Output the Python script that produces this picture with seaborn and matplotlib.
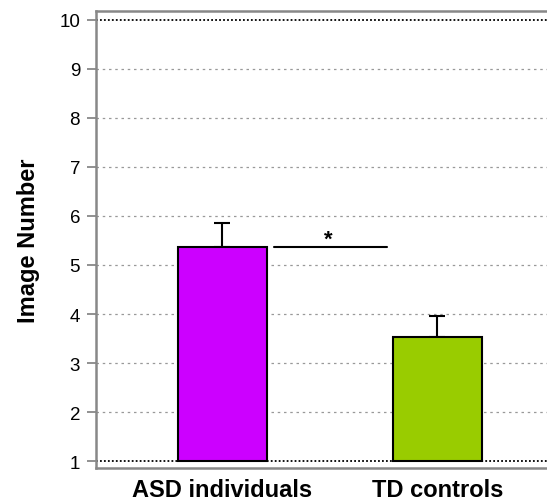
import matplotlib
matplotlib.use("Agg")
import matplotlib.pyplot as plt
import seaborn as sns
import pandas as pd
import numpy as np

groups = ["ASD individuals", "TD controls"]
means = [5.36, 3.54]
errors = [0.50, 0.41]
colors = ["#CC00FF", "#99CC00"]
yticks = [1, 2, 3, 4, 5, 6, 7, 8, 9, 10]

sns.set_style("white")
plt.rcParams['font.family'] = ['Liberation Sans', 'DejaVu Sans']
plt.rcParams['text.color'] = 'black'
plt.rcParams['axes.labelcolor'] = 'black'
plt.rcParams['xtick.color'] = 'black'
plt.rcParams['ytick.color'] = 'black'

df = pd.DataFrame({"group": groups, "mean": means})

fig = plt.figure(figsize=(5.47, 5.02), dpi=100)
ax = fig.add_axes([96/547, 33/502, 453/547, 457/502])

# grid lines
for t in yticks:
    if t in (1, 10):
        ax.axhline(t, color="black", lw=1.3, ls=(0, (1, 1.2)), zorder=1)
    else:
        ax.axhline(t, color="#999999", lw=0.9, ls=(0, (2, 3)), zorder=1)

sns.barplot(data=df, x="group", y="mean", hue="group", palette=colors,
            saturation=1, width=0.414, edgecolor="black", linewidth=1.5,
            legend=False, ax=ax, zorder=3, errorbar=None)
# bars start at 1 (baseline)
for p in ax.patches:
    p.set_y(1)
    p.set_height(p.get_height() - 1)

x = np.arange(len(groups))
ax.errorbar(x, means, yerr=[np.zeros(len(errors)), errors], fmt="none",
            ecolor="black", elinewidth=1.5, capsize=5.5, capthick=1.5, zorder=2)

# significance marker
ax.plot([0.24, 0.765], [5.36, 5.36], color="black", lw=1.5, zorder=4)
ax.text(0.495, 5.52, "*", ha="center", va="center", fontsize=16, fontweight="bold")

ax.set_xlim(-0.588, 1.52)
ax.set_ylim(0.86, 10.18)
ax.set_yticks(yticks)
ax.set_yticklabels([str(t) for t in yticks], fontsize=13.5)
ax.tick_params(axis="y", which="major", direction="out", length=6.5, width=1.3,
               color="#888888", left=True, pad=5, labelcolor="black")
ax.tick_params(axis="x", length=0, pad=7, labelcolor="black")
for lab in ax.get_xticklabels():
    lab.set_fontsize(17)
    lab.set_fontweight("bold")
ax.set_xlabel("")
ax.set_ylabel("Image Number", fontsize=17, fontweight="bold", labelpad=14)
for s in ax.spines.values():
    s.set_color("#888888")
    s.set_linewidth(1.8)

fig.savefig("out.png", dpi=100)
